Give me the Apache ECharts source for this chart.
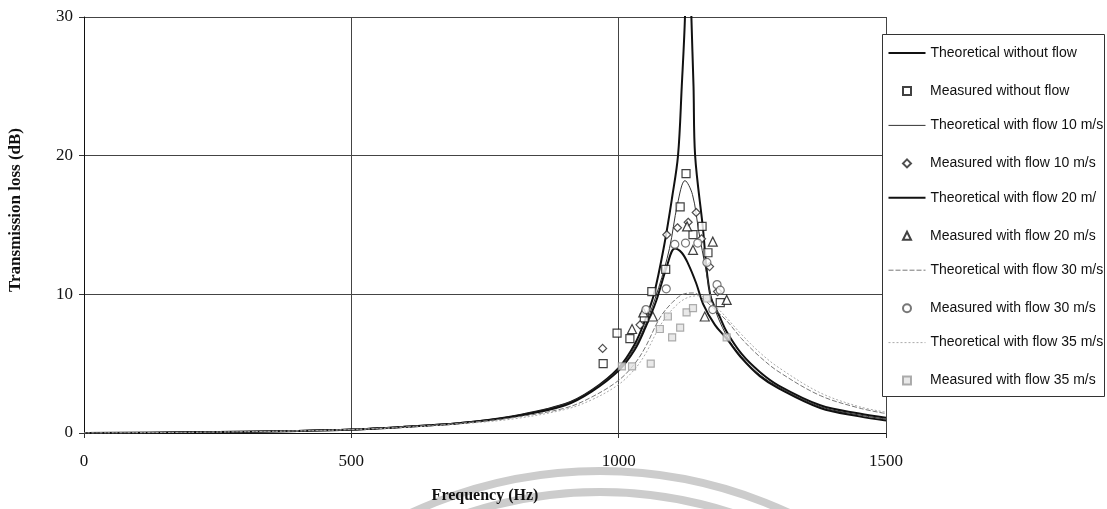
<!DOCTYPE html>
<html>
<head>
<meta charset="utf-8">
<script src="https://cdn.jsdelivr.net/npm/echarts@6/dist/echarts.min.js"></script>
<style>
  html, body { margin: 0; padding: 0; background: #fff; }
  #chart { width: 1107px; height: 509px; }
</style>
</head>
<body>
<div id="chart"></div>
<script>
// Transmission loss vs frequency: theory (lines) and measurement (markers)
const xTicks = [0, 500, 1000, 1500];
const yTicks = [0, 10, 20, 30];

// Theoretical curves, [frequency Hz, TL dB]
const theoNoFlow = [
  [0, 0], [200, 0.05], [400, 0.15], [500, 0.25], [600, 0.45], [700, 0.7], [800, 1.2],
  [900, 2.1], [950, 3.1], [1000, 4.7], [1030, 6.4], [1050, 8.2], [1066, 10], [1085, 13.5],
  [1100, 17], [1111, 20], [1118, 25], [1124, 30], [1130, 40], [1136, 30], [1140, 25],
  [1143, 20], [1157, 15], [1171, 10], [1190, 8.3], [1202, 7.3], [1230, 5.7], [1264, 4.4],
  [1300, 3.4], [1377, 2.0], [1450, 1.4], [1500, 1.1]
];
const theoFlow10 = [
  [0, 0], [200, 0.05], [400, 0.15], [500, 0.25], [600, 0.45], [700, 0.7], [800, 1.2],
  [900, 2.1], [950, 3.1], [1000, 4.6], [1030, 6.2], [1050, 7.8], [1075, 10.5], [1095, 13.3],
  [1110, 16.5], [1124, 18.2], [1138, 17.2], [1150, 14.5], [1163, 11.8], [1175, 9.5],
  [1202, 7.0], [1230, 5.5], [1264, 4.2], [1300, 3.3], [1377, 1.9], [1450, 1.3], [1500, 1.0]
];
const theoFlow20 = [
  [0, 0], [200, 0.05], [400, 0.15], [500, 0.25], [600, 0.45], [700, 0.7], [800, 1.15],
  [900, 2.0], [950, 3.0], [1000, 4.5], [1030, 6.0], [1050, 7.6], [1070, 9.5], [1090, 12.0],
  [1105, 13.3], [1118, 13.0], [1130, 12.2], [1145, 10.8], [1158, 9.3], [1180, 7.8],
  [1202, 6.8], [1230, 5.4], [1264, 4.1], [1300, 3.2], [1377, 1.8], [1450, 1.2], [1500, 0.9]
];
const theoFlow30 = [
  [0, 0], [200, 0.05], [400, 0.15], [500, 0.25], [600, 0.45], [700, 0.7], [800, 1.1],
  [900, 1.8], [950, 2.6], [1000, 3.8], [1030, 5.0], [1050, 6.2], [1077, 8.3], [1100, 9.4],
  [1120, 10.0], [1140, 10.1], [1160, 9.6], [1180, 8.9], [1202, 8.1], [1230, 6.8],
  [1264, 5.5], [1300, 4.4], [1377, 2.7], [1450, 1.8], [1500, 1.4]
];
const theoFlow35 = [
  [0, 0], [200, 0.05], [400, 0.15], [500, 0.25], [600, 0.4], [700, 0.65], [800, 1.0],
  [900, 1.7], [950, 2.4], [1000, 3.5], [1030, 4.6], [1050, 5.7], [1077, 7.7], [1100, 8.9],
  [1125, 9.7], [1150, 9.9], [1170, 9.5], [1190, 8.8], [1202, 8.3], [1230, 7.1],
  [1264, 5.8], [1300, 4.7], [1377, 2.9], [1450, 1.9], [1500, 1.5]
];

// Measured points, [frequency Hz, TL dB]
const measNoFlow = [
  [971, 5.0], [997, 7.2], [1021, 6.8], [1048, 8.3], [1062, 10.2], [1088, 11.8],
  [1115, 16.3], [1126, 18.7], [1139, 14.3], [1156, 14.9], [1167, 13.0], [1190, 9.4]
];
const measFlow10 = [
  [970, 6.1], [1040, 7.8], [1090, 14.3], [1110, 14.8], [1130, 15.2], [1145, 15.9],
  [1155, 14.0], [1170, 12.0], [1185, 10.2]
];
const measFlow20 = [
  [1025, 7.5], [1046, 8.7], [1064, 8.4], [1128, 14.9], [1139, 13.2], [1161, 8.4],
  [1176, 13.8], [1202, 9.6]
];
const measFlow30 = [
  [1051, 8.9], [1089, 10.4], [1105, 13.6], [1125, 13.7], [1148, 13.7], [1165, 12.3],
  [1176, 8.9], [1184, 10.7], [1190, 10.3]
];
const measFlow35 = [
  [1006, 4.8], [1025, 4.8], [1060, 5.0], [1077, 7.5], [1092, 8.4], [1100, 6.9],
  [1115, 7.6], [1127, 8.7], [1139, 9.0], [1165, 9.7], [1202, 6.9]
];

const theoNames = [
  'Theoretical without flow', 'Theoretical with flow 10 m/s', 'Theoretical with flow 20 m/',
  'Theoretical with flow 30 m/s', 'Theoretical with flow 35 m/s'
];
const measNames = [
  'Measured without flow', 'Measured with flow 10 m/s', 'Measured with flow 20 m/s',
  'Measured with flow 30 m/s', 'Measured with flow 35 m/s'
];

// line styles shared by the curves and their legend keys
const theoStyles = [
  { color: '#111', width: 2, type: 'solid' },
  { color: '#333', width: 1, type: 'solid' },
  { color: '#111', width: 2, type: 'solid' },
  { color: '#777', width: 1, type: [5, 2] },
  { color: '#aaa', width: 1, type: [2, 2] }
];
const theoData = [theoNoFlow, theoFlow10, theoFlow20, theoFlow30, theoFlow35];

const markStyles = [
  { symbol: 'rect', size: 8, stroke: '#111', fill: '#fff' },
  { symbol: 'diamond', size: 8, stroke: '#222', fill: '#fff' },
  { symbol: 'triangle', size: 9, stroke: '#111', fill: '#fff' },
  { symbol: 'circle', size: 8, stroke: '#555', fill: '#fff' },
  { symbol: 'rect', size: 7, stroke: '#999', fill: '#e4e4e4' }
];
const measData = [measNoFlow, measFlow10, measFlow20, measFlow30, measFlow35];

const legendFont = { fontFamily: 'Liberation Sans, Arial', fontSize: 14, color: '#111', lineHeight: 14 };
const serifFont = 'Liberation Serif, Times New Roman';

const series = [];
theoNames.forEach((name, i) => {
  const s = theoStyles[i];
  series.push({
    name, type: 'line', data: theoData[i], symbol: 'none', smooth: 0.35, z: 2,
    lineStyle: { color: s.color, width: s.width, type: s.type }, itemStyle: { color: s.color }
  });
});
measNames.forEach((name, i) => {
  const m = markStyles[i];
  series.push({
    name, type: 'scatter', data: measData[i], symbol: m.symbol, symbolSize: m.size, z: 3,
    itemStyle: { color: m.fill, borderColor: m.stroke, borderWidth: 1.2 }
  });
});

const chart = echarts.init(document.getElementById('chart'), null, { renderer: 'canvas' });
chart.setOption({
  animation: false,
  backgroundColor: '#fff',
  graphic: [
    { type: 'circle', silent: true, z: -1, shape: { cx: 600, cy: 918, r: 447 },
      style: { fill: 'none', stroke: '#cccccc', lineWidth: 8 } },
    { type: 'circle', silent: true, z: -1, shape: { cx: 600, cy: 918, r: 426 },
      style: { fill: 'none', stroke: '#cccccc', lineWidth: 8 } },
    { type: 'rect', silent: true, z: 5, shape: { x: 882.5, y: 34.5, width: 222, height: 362 },
      style: { fill: '#fff', stroke: '#333', lineWidth: 1 } }
  ],
  grid: { left: 84, top: 17, right: 221, bottom: 76, containLabel: false, outerBoundsMode: 'none' },
  legend: [
    {
      // line keys
      data: theoNames.map((name, i) => ({
        name, icon: 'line',
        itemStyle: { color: 'none', borderColor: theoStyles[i].color, borderWidth: theoStyles[i].width, borderType: theoStyles[i].type }
      })),
      orient: 'vertical', left: 886, top: 46, z: 6, padding: 0,
      itemWidth: 37, itemHeight: 7, itemGap: 58.4,
      textStyle: legendFont, selectedMode: false
    },
    {
      // marker keys
      data: measNames, orient: 'vertical', left: 902, top: 84, z: 6, padding: 0,
      itemWidth: 8, itemHeight: 8, itemGap: 58.4,
      textStyle: Object.assign({ padding: [0, 0, 0, 14] }, legendFont), selectedMode: false
    }
  ],
  xAxis: {
    type: 'value', min: xTicks[0], max: xTicks[xTicks.length - 1], interval: 500,
    name: 'Frequency (Hz)', nameLocation: 'middle', nameGap: 55,
    nameTextStyle: { fontFamily: serifFont, fontWeight: 'bold', fontSize: 16, color: '#111' },
    axisLine: { onZero: false, lineStyle: { color: '#111', width: 1 } },
    axisTick: { show: true, length: 5, lineStyle: { color: '#333' } },
    axisLabel: { margin: 20, fontFamily: serifFont, fontSize: 17, color: '#111', formatter: v => String(v) },
    splitLine: { show: true, lineStyle: { color: '#444', width: 1 } }
  },
  yAxis: {
    type: 'value', min: yTicks[0], max: yTicks[yTicks.length - 1], interval: 10,
    name: 'Transmission loss (dB)', nameLocation: 'middle', nameGap: 60, nameRotate: 90,
    nameTextStyle: { fontFamily: serifFont, fontWeight: 'bold', fontSize: 17, color: '#111', padding: [0, 0, 0, 30] },
    axisLine: { show: true, lineStyle: { color: '#111', width: 1 } },
    axisTick: { show: true, length: 5, lineStyle: { color: '#333' } },
    axisLabel: { margin: 11, fontFamily: serifFont, fontSize: 17, color: '#111', formatter: v => String(v) },
    splitLine: { show: true, lineStyle: { color: '#444', width: 1 } }
  },
  series
});
</script>
</body>
</html>
